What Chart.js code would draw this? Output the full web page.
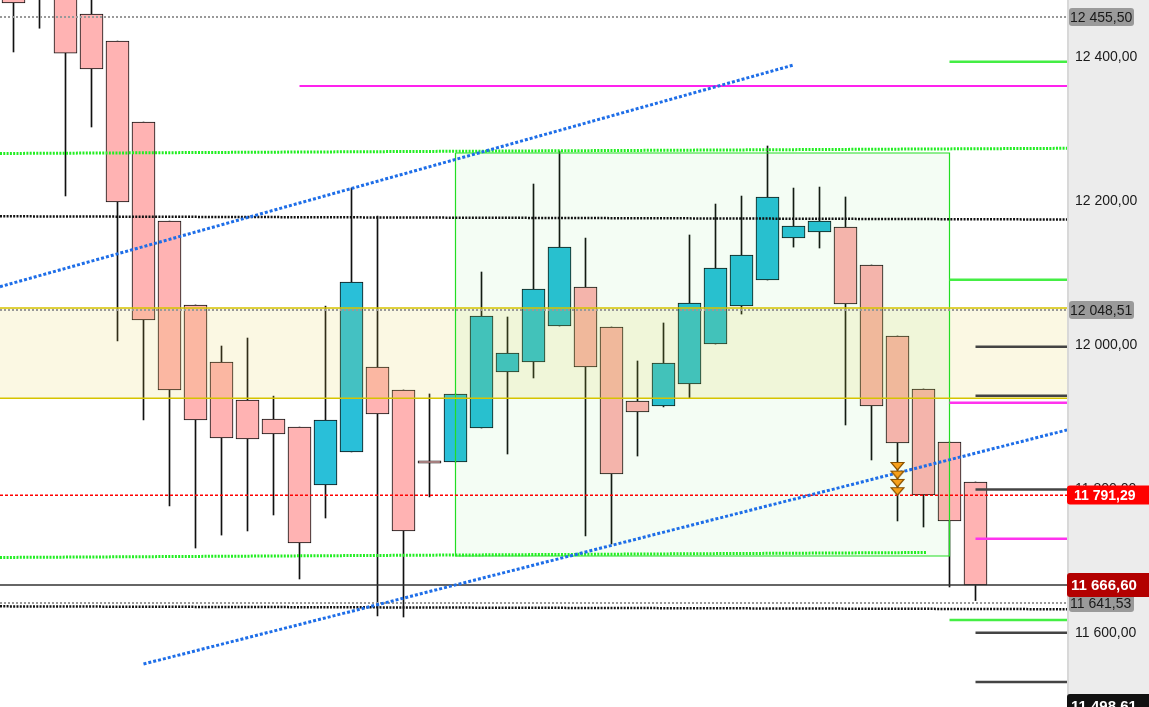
<!DOCTYPE html>
<html lang="en">
<head>
    <meta charset="UTF-8">
    <title>Candles</title>
    <script src="https://cdn.jsdelivr.net/npm/chart.js"></script>
    <style>
        html, body { margin: 0; padding: 0; background: #fff; }
        .wrap { width: 1149px; height: 707px; position: relative; }
    </style>
</head>
<body>
    <div class="wrap"><canvas id="chart"></canvas></div>

    <script>
        // candles, index 0 = left edge
        const opens  = [12495, 12540, 12490, 12459.7, 12422, 12309.7, 12172.2, 12055.6, 11976.4, 11923.6,
                        11897.2, 11886, 11805.6, 11851.4, 11969.4, 11937.5, 11839, 11837.5, 11884.7, 11962.5,
                        11976.4, 12026.4, 12080.6, 12025, 11922.2, 11915.3, 11945.8, 12001.4, 12054.2, 12090.3,
                        12148.6, 12156.9, 12163.9, 12111.1, 12012.5, 11938.9, 11865.3, 11809.7];
        const highs  = [12520, 12560, 12500, 12490, 12422, 12309.7, 12172.2, 12055.6, 11998.6, 12009.7,
                        11929, 11886, 12054, 12218, 12179, 11937.5, 11932, 11932, 12101.4, 12038.9,
                        12223.6, 12269.4, 12148.6, 12025, 11977.8, 12030.6, 12152.8, 12195.8, 12206.9, 12276.4,
                        12218, 12219.4, 12205.6, 12111.1, 12012.5, 11938.9, 11865.3, 11809.7];
        const lows   = [12407, 12440, 12207, 12302.8, 12005.6, 11895.8, 11776.4, 11718, 11736, 11741.7,
                        11763.9, 11675, 11759.7, 11851.4, 11623.6, 11622.2, 11789, 11837.5, 11884.7, 11848.6,
                        11954.2, 12026.4, 11734.7, 11723.6, 11845.8, 11914, 11926.4, 12001.4, 12043, 12090.3,
                        12136, 12134.7, 11888.9, 11840.3, 11755.6, 11747.2, 11663.9, 11645];
        const closes = [12475, 12500, 12405.5, 12383.3, 12198.6, 12034.7, 11937.5, 11895.8, 11870.8, 11869.4,
                        11876.4, 11725, 11895.8, 12087.5, 11904.2, 11741.7, 11836, 11932, 12040.3, 11988.9,
                        12077.8, 12136.1, 11969.4, 11820.8, 11906.9, 11975, 12058.3, 12106.9, 12125, 12205.6,
                        12165.3, 12172.2, 12056.9, 11915.3, 11863.9, 11791.7, 11755.6, 11666.6];

        // signal arrows above candle 34
        const arrowIndex = 34;
        const arrowPrices = [11832, 11820, 11808.5, 11797];

        // y axis
        const tickValues = [11600, 11800, 12000, 12200, 12400];
        const priceTags = [12455.50, 12048.51, 11791.29, 11666.60, 11641.53, 11498.61];

        // drawn levels: [x from, x to, y from, y to]
        const upperTrend  = [-0.52, 30.0, 12081.0, 12388.9];
        const lowerTrend  = [5, 40.52, 11556.9, 11882.0];
        const upperGreen  = [-0.52, 40.52, 12266.0, 12273.2];
        const lowerGreen  = [-0.52, 35.1, 11704.9, 11711.8];
        const blackDotTop = [-0.52, 40.52, 12178.8, 12174.3];
        const blackDotLow = [-0.52, 40.52, 11637.0, 11633.0];
        const magentaLong = [11, 40.52, 12359.7, 12359.7];

        const zoneTop = 12051.3, zoneBottom = 11926.1;
        const boxX = [17, 36], boxY = [11706.9, 12266.7];

        const shortGreen   = [12393.5, 12090.7, 11618];
        const shortMagenta = [11919.9, 11731];
        const shortBlack   = [11997.7, 11929.6, 11799.3, 11600.4, 11531.9];

        const fullDotGray = [12455.5, 12048.51, 11641.53];
        const lastLine = 11666.6;
        const redLine = 11791.29;

        const xMin = -13.5 / 26;
        const xMax = xMin + 1067 / 26;
        const fontFamily = '"Liberation Sans", Arial, sans-serif';

        function fmt(v) {
            const parts = v.toFixed(2).split('.');
            return parts[0].replace(/\B(?=(\d{3})+(?!\d))/g, ' ') + ',' + parts[1];
        }

        function seg(s, color, width, dash, order) {
            return {
                type: 'line',
                data: [{x: s[0], y: s[2]}, {x: s[1], y: s[3]}],
                borderColor: color, borderWidth: width, borderDash: dash || [],
                pointRadius: 0, fill: false, order: order
            };
        }
        function hline(x0, v, color, width, dash, order) {
            return seg([x0, xMax, v, v], color, width, dash, order);
        }

        // flat down arrow used as point style
        const arrowImg = document.createElement('canvas');
        arrowImg.width = 15; arrowImg.height = 10;
        (function () {
            const c = arrowImg.getContext('2d');
            c.beginPath();
            c.moveTo(1, 1.5); c.lineTo(14, 1.5); c.lineTo(7.5, 9); c.closePath();
            c.fillStyle = '#f8a01a';
            c.fill();
            c.lineWidth = 1.2;
            c.strokeStyle = '#8a5200';
            c.stroke();
        })();

        const bodyData = opens.map((o, i) => ({x: i, y: [o, closes[i]]}));
        const wickData = lows.map((l, i) => ({x: i, y: [l, highs[i]]}));
        const bodyColors = opens.map((o, i) => closes[i] >= o ? '#29bfd9' : '#ffb3b3');

        const datasets = [
            {type: 'bar', data: wickData, backgroundColor: '#111', barThickness: 1, grouped: false, order: 20},
            {type: 'bar', data: bodyData, backgroundColor: bodyColors, borderColor: '#111', borderWidth: 1,
             borderSkipped: false, barThickness: 23, grouped: false, order: 19},
            // zone
            {type: 'line', data: [{x: xMin, y: zoneTop}, {x: xMax, y: zoneTop}, {x: xMax, y: zoneBottom}, {x: xMin, y: zoneBottom}, {x: xMin, y: zoneTop}],
             borderWidth: 0, pointRadius: 0, fill: 'shape', backgroundColor: 'rgba(225,205,70,0.15)', order: 12},
            // box
            {type: 'line', data: [{x: boxX[0], y: boxY[1]}, {x: boxX[1], y: boxY[1]}, {x: boxX[1], y: boxY[0]}, {x: boxX[0], y: boxY[0]}, {x: boxX[0], y: boxY[1]}],
             borderColor: '#22dd22', borderWidth: 1.2, pointRadius: 0, fill: 'shape', backgroundColor: 'rgba(40,220,40,0.05)', order: 11},
            hline(xMin, zoneTop, '#d6c300', 1.5, [], 10),
            hline(xMin, zoneBottom, '#d6c300', 1.5, [], 10),
            hline(xMin, redLine, '#ff0000', 1.5, [3, 2], 9),
            hline(xMin, lastLine, '#333', 1.5, [], 9),
            ...fullDotGray.map(v => hline(xMin, v, '#999', 2, [2, 2], 8)),
            seg(blackDotTop, '#111', 2.5, [2, 1.3], 7),
            seg(blackDotLow, '#111', 2.5, [2, 1.3], 7),
            seg(upperGreen, '#22ee22', 3, [2, 1.3], 6),
            seg(lowerGreen, '#22ee22', 3, [2, 1.3], 6),
            seg(magentaLong, '#ff22ee', 2, [], 6),
            ...shortGreen.map(v => hline(36, v, '#44ee44', 2.5, [], 5)),
            hline(36, shortMagenta[0], '#ff33ee', 2.5, [], 5),
            hline(37, shortMagenta[1], '#ff33ee', 2.5, [], 5),
            ...shortBlack.map(v => hline(37, v, '#444', 2.5, [], 5)),
            seg(upperTrend, '#1e6ee8', 3, [3, 2], 4),
            seg(lowerTrend, '#1e6ee8', 3, [3, 2], 4),
            {type: 'line', data: arrowPrices.map(p => ({x: arrowIndex, y: p})), showLine: false,
             pointStyle: arrowImg, pointRadius: 7, order: 1}
        ];

        const tagStyles = [
            {bg: '#9a9a9a', fg: '#1a1a1a', bold: false, full: false, h: 18},
            {bg: '#9a9a9a', fg: '#1a1a1a', bold: false, full: false, h: 18},
            {bg: '#ff0000', fg: '#fff', bold: true, full: true, h: 19, size: 14},
            {bg: '#b30000', fg: '#fff', bold: true, full: true, h: 24, size: 15},
            {bg: '#9a9a9a', fg: '#1a1a1a', bold: false, full: false, h: 18},
            {bg: '#111111', fg: '#fff', bold: true, full: true, h: 24, size: 15}
        ];
        const drawOrder = [0, 1, 4, 2, 3, 5];

        const panelPlugin = {
            id: 'panel',
            beforeDraw(chart) {
                const {ctx, chartArea, width, height} = chart;
                ctx.save();
                ctx.fillStyle = '#ffffff';
                ctx.fillRect(0, 0, chartArea.right, height);
                ctx.fillStyle = '#ececec';
                ctx.fillRect(chartArea.right, 0, width - chartArea.right, height);
                ctx.fillStyle = '#d8d8d8';
                ctx.fillRect(chartArea.right, 0, 2, height);
                ctx.restore();
            },
            afterDraw(chart) {
                const {ctx, chartArea, width} = chart;
                const y = chart.scales.y;
                ctx.save();
                drawOrder.forEach(k => {
                    const v = priceTags[k], st = tagStyles[k];
                    const py = Math.round(y.getPixelForValue(v));
                    ctx.fillStyle = st.bg;
                    ctx.beginPath();
                    if (st.full) {
                        ctx.roundRect(chartArea.right, py - st.h / 2, width - chartArea.right + 4, st.h, 3);
                    } else {
                        ctx.roundRect(chartArea.right + 2, py - st.h / 2, 65, st.h, 3);
                    }
                    ctx.fill();
                    ctx.fillStyle = st.fg;
                    ctx.font = (st.bold ? 'bold ' : '') + (st.size || 14) + 'px ' + fontFamily;
                    ctx.textBaseline = 'middle';
                    ctx.textAlign = 'left';
                    ctx.fillText(fmt(v), chartArea.right + (st.full ? (st.size === 15 ? 4 : 7) : 3), py + 1);
                });
                ctx.restore();
            }
        };

        new Chart(document.getElementById('chart'), {
            type: 'bar',
            data: {datasets: datasets},
            options: {
                responsive: true,
                maintainAspectRatio: false,
                animation: false,
                events: [],
                layout: {padding: 0, autoPadding: false},
                plugins: {legend: {display: false}, tooltip: {enabled: false}},
                scales: {
                    x: {type: 'linear', min: xMin, max: xMax, offset: false, display: false},
                    y: {
                        type: 'linear', position: 'right', min: 11497.2, max: 12479.2,
                        beginAtZero: false,
                        grid: {display: false, drawTicks: false},
                        border: {display: false},
                        afterBuildTicks: s => { s.ticks = tickValues.map(v => ({value: v})); },
                        afterFit: s => {
                            s.width = 82;
                            s.paddingTop = 0; s.paddingBottom = 0;
                            s.paddingLeft = 0; s.paddingRight = 0;
                        },
                        ticks: {
                            padding: 8, color: '#1a1a1a',
                            font: {family: fontFamily, size: 14},
                            callback: v => fmt(v)
                        }
                    }
                }
            },
            plugins: [panelPlugin]
        });
    </script>
</body>
</html>
